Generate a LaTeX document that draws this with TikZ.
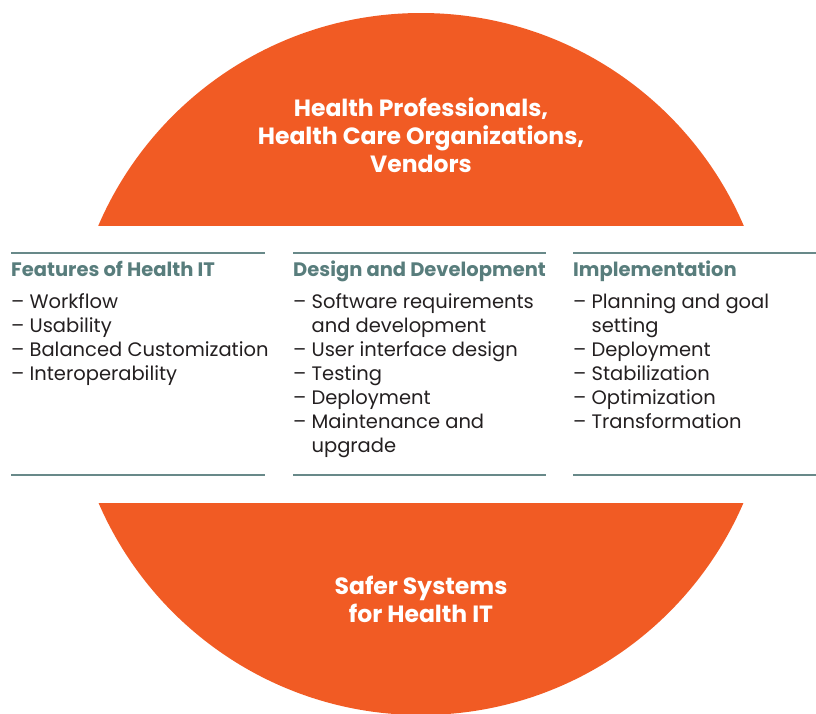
\documentclass[tikz,border=0pt]{standalone}
\usepackage{fontspec}
\setmainfont{Poppins}
\usetikzlibrary{positioning}

\definecolor{capcolor}{RGB}{241,91,36}
\definecolor{headcolor}{RGB}{88,125,124}
\definecolor{rulecolor}{RGB}{104,137,137}
\definecolor{itemcolor}{RGB}{35,31,32}
\newcommand{\contd}{\phantom{– }}

\begin{document}
\begin{tikzpicture}[x=1pt, y=-1pt,
    orangecap/.style={fill=capcolor},
    captext/.style={text=white, align=center, inner sep=0pt, font=\bfseries\fontsize{23.5}{28}\selectfont},
    colhead/.style={anchor=base west, inner sep=0pt, text=headcolor, font=\bfseries\fontsize{19.5}{24}\selectfont},
    colbody/.style={anchor=base west, inner sep=0pt, text=itemcolor, align=left, font=\fontsize{19.5}{24}\selectfont},
    colrule/.style={draw=rulecolor, line width=2pt}]
  \useasboundingbox (0,0) rectangle (816,713);
  % orange caps
  \begin{scope}
    \clip (0,0) rectangle (816,225);
    \fill[orangecap] (421,364) circle[radius=351];
  \end{scope}
  \begin{scope}
    \clip (0,503) rectangle (816,713);
    \fill[orangecap] (421,364) circle[radius=351];
  \end{scope}
  \node[captext] (who) at (421,135) {Health Professionals,\\Health Care Organizations,\\Vendors};
  \node[captext] (goal) at (421,599) {Safer Systems\\for Health IT};

  % rules above and below the columns
  \foreach \xa/\xb in {11/265, 293/546, 573/816}
    \draw[colrule] (\xa,253) -- (\xb,253) (\xa,475) -- (\xb,475);

  % column heads
  \node[colhead] (feat) at (11,276) {Features of Health IT};
  \node[colhead] (design) at (293,276) {Design and Development};
  \node[colhead] (impl) at (573,276) {Implementation};

  % column lists (base = last line)
  \node[colbody] (featlist) at (11,380) {– Workflow\\– Usability\\– Balanced Customization\\– Interoperability};
  \node[colbody] (designlist) at (293,452) {– Software requirements\\\contd and development\\– User interface design\\– Testing\\– Deployment\\– Maintenance and\\\contd upgrade};
  \node[colbody] (impllist) at (573,428) {– Planning and goal\\\contd setting\\– Deployment\\– Stabilization\\– Optimization\\– Transformation};
\end{tikzpicture}
\end{document}
